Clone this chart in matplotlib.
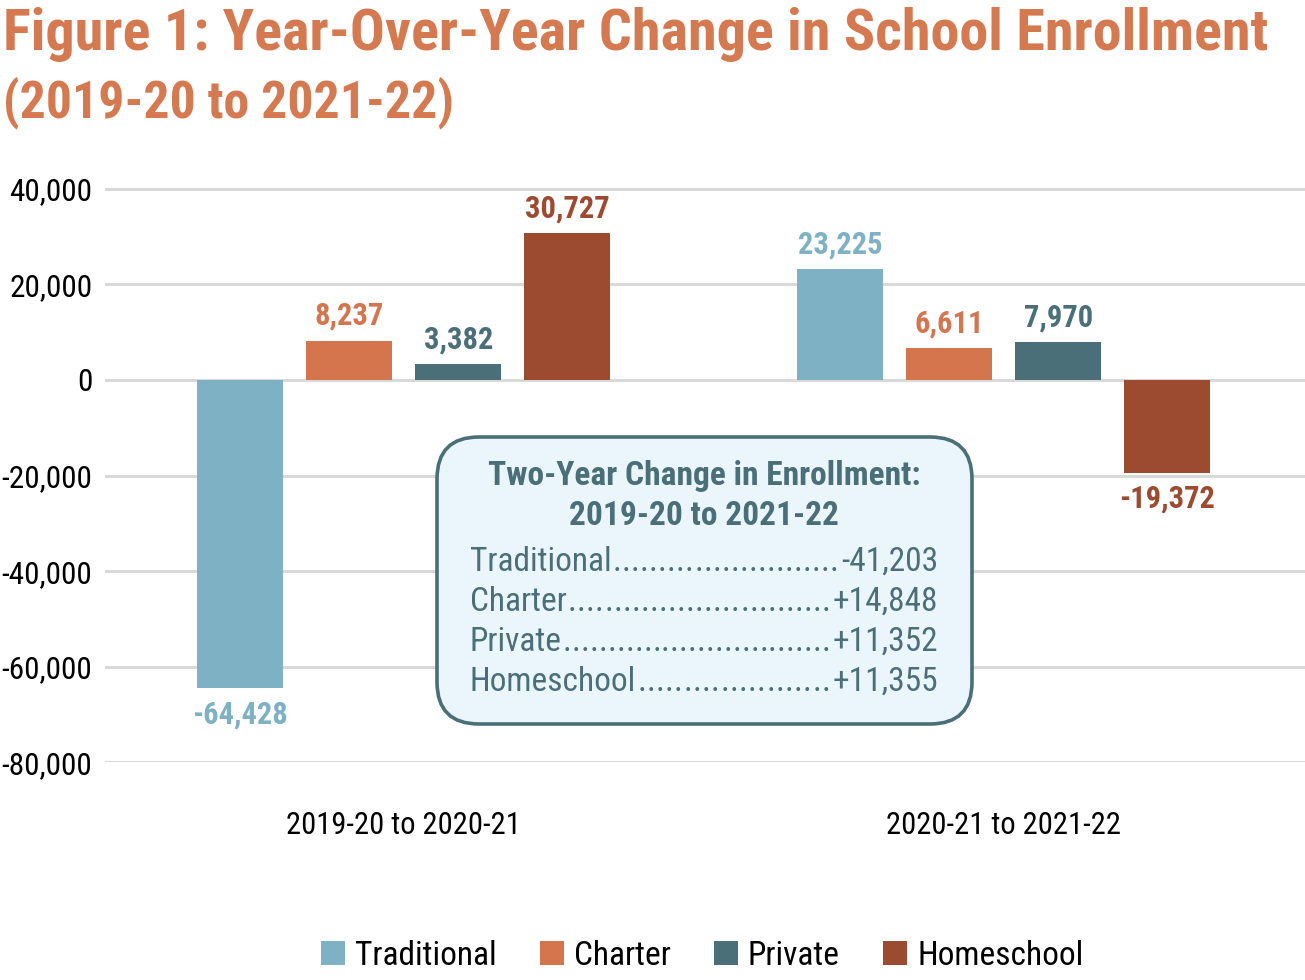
import matplotlib
matplotlib.use('Agg')
import matplotlib.pyplot as plt
from matplotlib import font_manager
from matplotlib.patches import FancyBboxPatch, Patch
import numpy as np

# ---------------- data ----------------
periods = ["2019-20 to 2020-21", "2020-21 to 2021-22"]
series = ["Traditional", "Charter", "Private", "Homeschool"]
traditional = [-64428, 23225]
charter = [8237, 6611]
private = [3382, 7970]
homeschool = [30727, -19372]
two_year_change = [-41203, 14848, 11352, 11355]
yticks = [40000, 20000, 0, -20000, -40000, -60000, -80000]
title_lines = ["Figure 1: Year-Over-Year Change in School Enrollment",
               "(2019-20 to 2021-22)"]
box_title = ["Two-Year Change in Enrollment:", "2019-20 to 2021-22"]

colors = ['#7FB1C5', '#D4754E', '#4B6F78', '#9C4A30']
title_color = '#D57A50'
box_edge = '#4B6F78'
box_fill = '#EAF6FB'
grid_color = '#D9D9D9'

# ---------------- fonts ----------------
def have(name):
    try:
        font_manager.findfont(font_manager.FontProperties(family=name),
                              fallback_to_default=False)
        return True
    except Exception:
        return False

fam = [f for f in ['Liberation Sans Narrow', 'Roboto Condensed', 'Liberation Sans']
       if have(f)] + ['DejaVu Sans']
plt.rcParams['font.family'] = fam

W, H = 1305, 980
fig = plt.figure(figsize=(W / 100, H / 100), dpi=100)

def px(x, y):
    return x / W, 1 - y / H

# axes: x from 105 to 1305 px, y from 167 to 762 px
ax = fig.add_axes([105 / W, 1 - 762.4 / H, 1200 / W, (762.4 - 167) / H])
ax.set_xlim(-0.498, 1.502)
ax.set_ylim(-80000, 44560)
for s in ax.spines.values():
    s.set_visible(False)
ax.set_yticks(yticks)
ax.set_yticklabels([f"{v:,}" for v in yticks], fontsize=22.5, color='black')
ax.tick_params(axis='y', length=0, pad=9)
ax.set_xticks([0, 1])
ax.set_xticklabels(periods, fontsize=22, color='black')
ax.tick_params(axis='x', length=0, pad=35)
for v in yticks:
    ax.axhline(v, color=grid_color, lw=2.2, zorder=0)

groups = np.arange(len(periods))
step = 0.1817
width = 0.143
all_vals = [traditional, charter, private, homeschool]
for i, (vals, c) in enumerate(zip(all_vals, colors)):
    xs = groups + (i - 1.5) * step
    ax.bar(xs, vals, width=width, color=c, zorder=2)
    for x, v in zip(xs, vals):
        if v >= 0:
            ax.annotate(f"{v:,}", (x, v), xytext=(0, 7), textcoords='offset points',
                        ha='center', va='bottom', fontsize=22, fontweight='bold',
                        color=c)
        else:
            ax.annotate(f"{v:,}", (x, v), xytext=(0, -8), textcoords='offset points',
                        ha='center', va='top', fontsize=22, fontweight='bold',
                        color=c)

# ---------------- title ----------------
t1 = fig.text(*px(3, 50), title_lines[0], fontsize=40, fontweight='bold',
              color=title_color, ha='left', va='baseline')
t2 = fig.text(*px(3, 117), title_lines[1], fontsize=40, fontweight='bold',
              color=title_color, ha='left', va='baseline')

# ---------------- box ----------------
box = FancyBboxPatch((4.37, (H - 724) / 100), 5.35, 2.87,
                     boxstyle="round,pad=0,rounding_size=0.42",
                     transform=fig.dpi_scale_trans, facecolor=box_fill,
                     edgecolor=box_edge, lw=2.6, zorder=5)
fig.patches.append(box)
bt1 = fig.text(*px(704, 485), box_title[0], fontsize=22, fontweight='bold',
               color=box_edge, ha='center', va='baseline', zorder=6)
bt2 = fig.text(*px(704, 525), box_title[1], fontsize=22, fontweight='bold',
               color=box_edge, ha='center', va='baseline', zorder=6)
rows = []
for k, (name, val) in enumerate(zip(series, two_year_change)):
    yb = 571 + 40 * k
    s = f"{val:+,}"
    lt = fig.text(*px(470, yb), name, fontsize=24, color=box_edge,
                  ha='left', va='baseline', zorder=6)
    vt = fig.text(*px(938, yb), s, fontsize=24, color=box_edge,
                  ha='right', va='baseline', zorder=6)
    rows.append((lt, vt, yb))

# ---------------- legend ----------------
handles = [Patch(facecolor=c, edgecolor='none') for c in colors]
leg = fig.legend(handles, series, loc='center', bbox_to_anchor=(px(702, 956)),
                 ncol=4, frameon=False, fontsize=24, handlelength=0.72,
                 handleheight=0.72, handletextpad=0.3, columnspacing=1.3,
                 borderaxespad=0)

# ---------------- fitting ----------------
fig.canvas.draw()
r = fig.canvas.get_renderer()

def fit(t, target):
    w = t.get_window_extent(r).width
    t.set_fontsize(t.get_fontsize() * target / w)

fit(t1, 1265)
fit(t2, 450)
fit(bt1, 432)
bt2.set_fontsize(bt1.get_fontsize())
fig.canvas.draw()

for lt, vt, yb in rows:
    e1 = lt.get_window_extent(r)
    e2 = vt.get_window_extent(r)
    gap = e2.x0 - e1.x1 - 2
    dt = fig.text(e1.x1 / W + 1 / W, 1 - yb / H, ".", fontsize=24, color=box_edge,
                  ha='left', va='baseline', zorder=6)
    n = 1
    while True:
        dt.set_text("." * (n + 1))
        if dt.get_window_extent(r).width > gap:
            dt.set_text("." * n)
            break
        n += 1
    # stretch the dots evenly to fill the gap exactly
    w = dt.get_window_extent(r).width
    if w < gap and n > 1:
        dt.remove()
        x0 = e1.x1 + 1
        dwid = w / n
        xs = np.linspace(x0, e2.x0 - 2 - dwid, n)
        for xx in xs:
            fig.text(xx / W, 1 - yb / H, ".", fontsize=24, color=box_edge,
                     ha='left', va='baseline', zorder=6)

fig.savefig('out.png', dpi=100)
